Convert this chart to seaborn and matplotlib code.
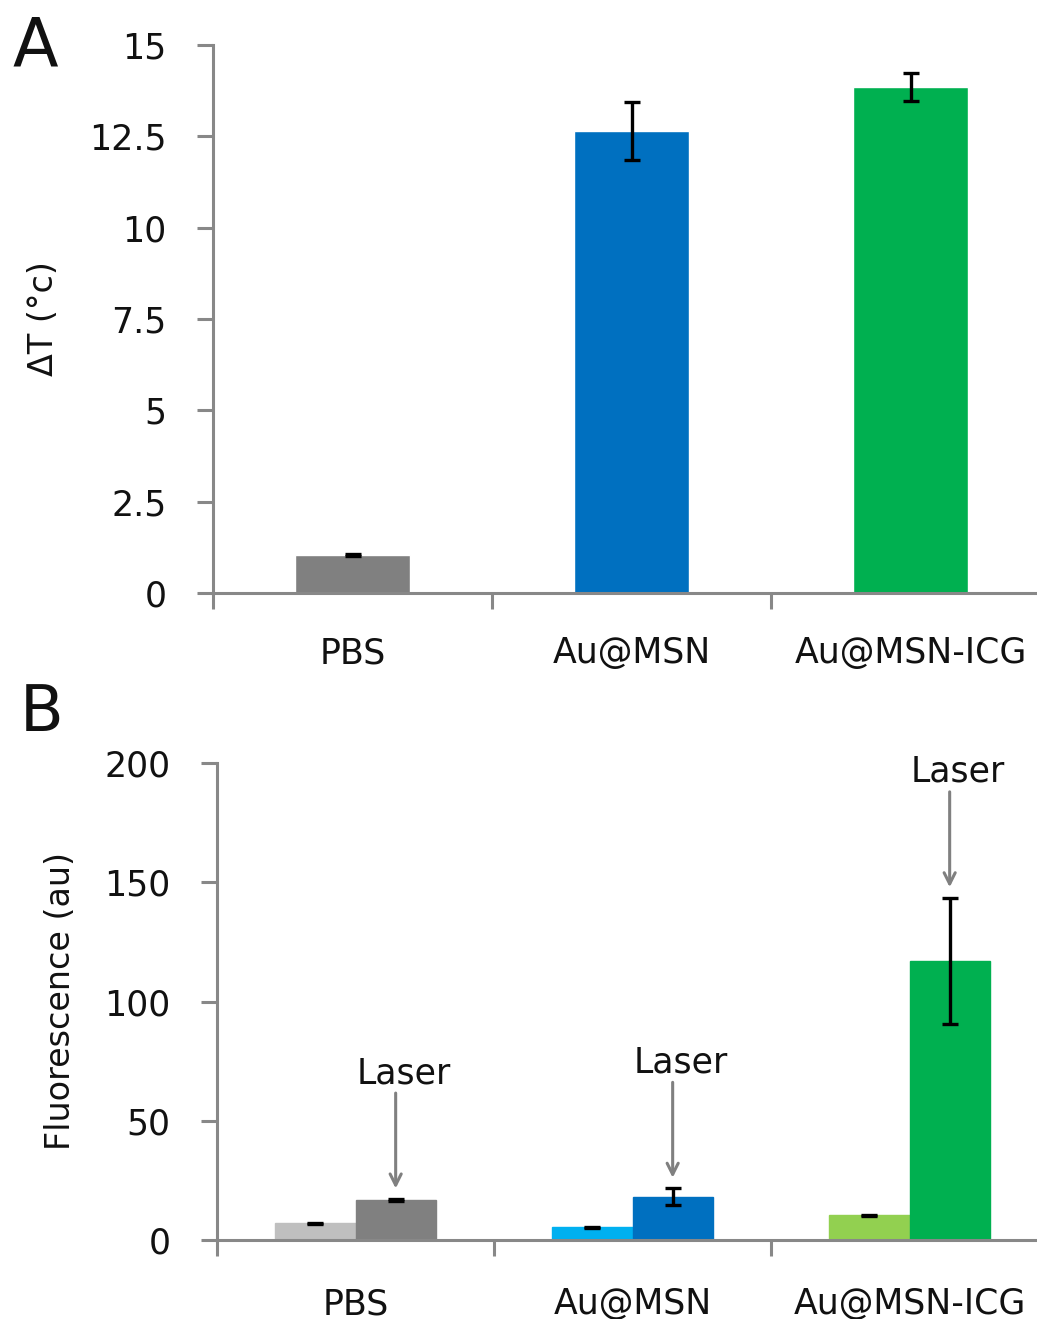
import matplotlib
matplotlib.use('Agg')
import matplotlib.pyplot as plt
import pandas as pd
import seaborn as sns

# categories shared by both panels
groups = ['PBS', 'Au@MSN', 'Au@MSN-ICG']

# panel A: temperature rise (mean, error)
dT_mean = [1.05, 12.65, 13.85]
dT_err = [0.03, 0.80, 0.37]
dT_colors = ['#808080', '#0070C0', '#00B050']
dT_ticks = [0, 2.5, 5, 7.5, 10, 12.5, 15]
dT_ticklabels = ['0', '2.5', '5', '7.5', '10', '12.5', '15']

# panel B: fluorescence without laser / with laser
conditions = ['No laser', 'Laser']
fl_nolaser = [7.0, 5.3, 10.3]
fl_nolaser_err = [0.3, 0.3, 0.3]
fl_laser = [16.7, 18.2, 116.9]
fl_laser_err = [0.4, 3.4, 26.5]
fl_colors_nolaser = ['#BFBFBF', '#00B0F0', '#92D050']
fl_colors_laser = ['#808080', '#0070C0', '#00B050']
fl_ticks = [0, 50, 100, 150, 200]

axis_grey = '#888888'
arrow_grey = '#808080'
fs = 25

sns.set_theme(style='ticks')
plt.rcParams['font.family'] = ['DejaVu Sans']
plt.rcParams['text.color'] = '#111111'
plt.rcParams['axes.labelcolor'] = '#111111'
plt.rcParams['xtick.color'] = '#111111'
plt.rcParams['ytick.color'] = '#111111'

W, H = 1037, 1319
fig = plt.figure(figsize=(W / 100, H / 100), dpi=100)


def style_axes(ax, left_px, width_px, ylabel, label_x_px):
    sns.despine(ax=ax)
    for side in ['left', 'bottom']:
        ax.spines[side].set_linewidth(2.2)
        ax.spines[side].set_color(axis_grey)
    ax.set_xlim(-0.5, len(groups) - 0.5)
    ax.set_xticks(range(len(groups)))
    ax.set_xticklabels(groups)
    ax.set_xticks([i - 0.5 for i in range(len(groups) + 1)], minor=True)
    ax.tick_params(axis='x', which='major', length=0, labelsize=fs)
    ax.tick_params(axis='x', which='minor', length=11.5, width=2.2, color=axis_grey)
    ax.tick_params(axis='y', length=11.5, width=2.2, color=axis_grey, pad=22, labelsize=fs)
    ax.set_xlabel('')
    ax.set_ylabel(ylabel, fontsize=fs - 1)
    ax.yaxis.set_label_coords((label_x_px - left_px) / width_px, 0.5)


# ---- panel A ----
axA = fig.add_axes([213 / W, 1 - 593 / H, 837 / W, 548 / H])
dfA = pd.DataFrame({'group': groups, 'dT': dT_mean})
sns.barplot(data=dfA, x='group', y='dT', hue='group', palette=dT_colors,
            width=0.41, saturation=1, legend=False, errorbar=None, ax=axA)
axA.errorbar(range(len(groups)), dT_mean, yerr=dT_err, fmt='none',
             ecolor='black', elinewidth=2.4, capsize=6, capthick=2.4)
axA.set_ylim(0, 15)
axA.set_yticks(dT_ticks)
axA.set_yticklabels(dT_ticklabels)
style_axes(axA, 213, 837, 'ΔT (°c)', 60)
axA.tick_params(axis='x', which='major', pad=31)

# ---- panel B ----
axB = fig.add_axes([217 / W, 1 - 1240 / H, 831 / W, 477 / H])
dfB = pd.DataFrame({
    'group': groups * 2,
    'condition': [conditions[0]] * 3 + [conditions[1]] * 3,
    'value': fl_nolaser + fl_laser,
})
sns.barplot(data=dfB, x='group', y='value', hue='condition', hue_order=conditions,
            width=0.58, saturation=1, legend=False, errorbar=None, ax=axB)

for container, cols, vals, errs in zip(axB.containers,
                                       [fl_colors_nolaser, fl_colors_laser],
                                       [fl_nolaser, fl_laser],
                                       [fl_nolaser_err, fl_laser_err]):
    xs = []
    for bar, c in zip(container, cols):
        bar.set_facecolor(c)
        bar.set_edgecolor(c)
        xs.append(bar.get_x() + bar.get_width() / 2)
    axB.errorbar(xs, vals, yerr=errs, fmt='none', ecolor='black',
                 elinewidth=2.4, capsize=6, capthick=2.4)

# "Laser" arrows above the laser bars
for bar, v, e in zip(axB.containers[1], fl_laser, fl_laser_err):
    x = bar.get_x() + bar.get_width() / 2
    tip = v + e + 4.5
    tail = tip + 40
    axB.annotate('', xy=(x, tip), xytext=(x, tail),
                 arrowprops=dict(arrowstyle='->', color=arrow_grey, lw=2.2,
                                 mutation_scale=20, shrinkA=0, shrinkB=0))
    axB.annotate('Laser', xy=(x, tail), xytext=(8, 3), textcoords='offset pixels',
                 ha='center', va='bottom', fontsize=fs)

axB.set_ylim(0, 200)
axB.set_yticks(fl_ticks)
axB.set_yticklabels([str(t) for t in fl_ticks])
style_axes(axB, 217, 831, 'Fluorescence (au)', 77)
axB.tick_params(axis='x', which='major', pad=34)

# panel letters
fig.text(12 / W, 1 - 14 / H, 'A', fontsize=48, va='top', ha='left')
fig.text(20 / W, 1 - 682 / H, 'B', fontsize=46, va='top', ha='left')

fig.savefig('out.png', dpi=100)
